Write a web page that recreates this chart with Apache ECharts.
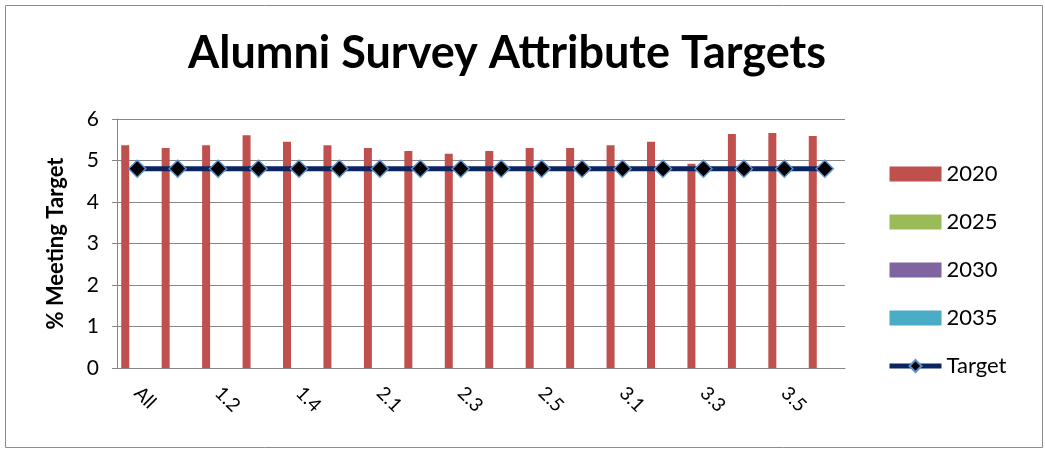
<!DOCTYPE html>
<html>
<head>
<meta charset="utf-8">
<script src="https://cdn.jsdelivr.net/npm/echarts@6/dist/echarts.min.js"></script>
<style>
  html, body { margin: 0; padding: 0; background: #fff; }
  #main { width: 1045px; height: 449px; }
</style>
</head>
<body>
<div id="main"></div>
<script>
// 分类与数据
const categories = ['All', '1.1', '1.2', '1.3', '1.4', '1.5', '2.1', '2.2', '2.3', '2.4', '2.5', '2.6', '3.1', '3.2', '3.3', '3.4', '3.5', '3.6']
const values2020 = [5.37, 5.30, 5.37, 5.61, 5.45, 5.37, 5.30, 5.23, 5.16, 5.23, 5.30, 5.30, 5.37, 5.45, 4.92, 5.64, 5.66, 5.59]
const values2025 = categories.map(() => null)
const values2030 = categories.map(() => null)
const values2035 = categories.map(() => null)
const targetValues = [4.8, 4.8, 4.8, 4.8, 4.8, 4.8, 4.8, 4.8, 4.8, 4.8, 4.8, 4.8, 4.8, 4.8, 4.8, 4.8, 4.8, 4.8]
const yTicks = [0, 1, 2, 3, 4, 5, 6]

const font = 'Lato, "Open Sans", sans-serif'
const chart = echarts.init(document.getElementById('main'), null, { renderer: 'canvas' })

const barSeries = (name, data, color) => ({
  name,
  type: 'bar',
  data,
  barWidth: 8,
  barGap: '0%',
  itemStyle: { color },
  emphasis: { disabled: true }
})

const option = {
  animation: false,
  backgroundColor: '#fff',
  graphic: [{
    type: 'rect',
    left: 3, top: 3,
    shape: { width: 1037, height: 442 },
    style: { fill: 'none', stroke: '#8c8c8c', lineWidth: 1 }
  }],
  title: {
    text: 'Alumni Survey Attribute Targets',
    left: 183,
    top: 26,
    textStyle: { fontFamily: font, fontSize: 45, fontWeight: 'bold', color: '#000' }
  },
  legend: {
    orient: 'vertical',
    left: 882,
    top: 158,
    itemWidth: 52,
    itemHeight: 15,
    itemGap: 26,
    textStyle: { fontFamily: font, fontSize: 22, color: '#000' },
    data: [
      { name: '2020', icon: 'rect' },
      { name: '2025', icon: 'rect' },
      { name: '2030', icon: 'rect' },
      { name: '2035', icon: 'rect' },
      { name: 'Target', lineStyle: { width: 5 } }
    ]
  },
  grid: { left: 117, right: 200, top: 119, bottom: 81 },
  xAxis: {
    type: 'category',
    data: categories,
    axisLine: { lineStyle: { color: '#868686' } },
    axisTick: { show: false },
    axisLabel: {
      interval: 1,
      rotate: -45,
      margin: 22,
      fontFamily: font,
      fontSize: 19,
      color: '#000'
    }
  },
  yAxis: {
    type: 'value',
    min: yTicks[0],
    max: yTicks[yTicks.length - 1],
    interval: 1,
    name: '% Meeting Target',
    nameLocation: 'middle',
    nameGap: 50,
    nameTextStyle: { fontFamily: font, fontSize: 22, fontWeight: 'bold', color: '#000' },
    axisLine: { show: true, lineStyle: { color: '#868686' } },
    axisTick: { show: true, length: 5, lineStyle: { color: '#868686' } },
    axisLabel: { fontFamily: font, fontSize: 21, color: '#000', margin: 18 },
    splitLine: { lineStyle: { color: '#868686', width: 1 } }
  },
  series: [
    barSeries('2020', values2020, '#C0504D'),
    barSeries('2025', values2025, '#9BBB59'),
    barSeries('2030', values2030, '#8064A2'),
    barSeries('2035', values2035, '#4BACC6'),
    {
      name: 'Target',
      type: 'line',
      data: targetValues,
      symbol: 'diamond',
      symbolSize: 17,
      lineStyle: { color: '#0B2560', width: 5 },
      itemStyle: { color: '#000', borderColor: '#5B8FD0', borderWidth: 1.5 },
      emphasis: { disabled: true },
      z: 5
    }
  ]
}

chart.setOption(option)
</script>
</body>
</html>
